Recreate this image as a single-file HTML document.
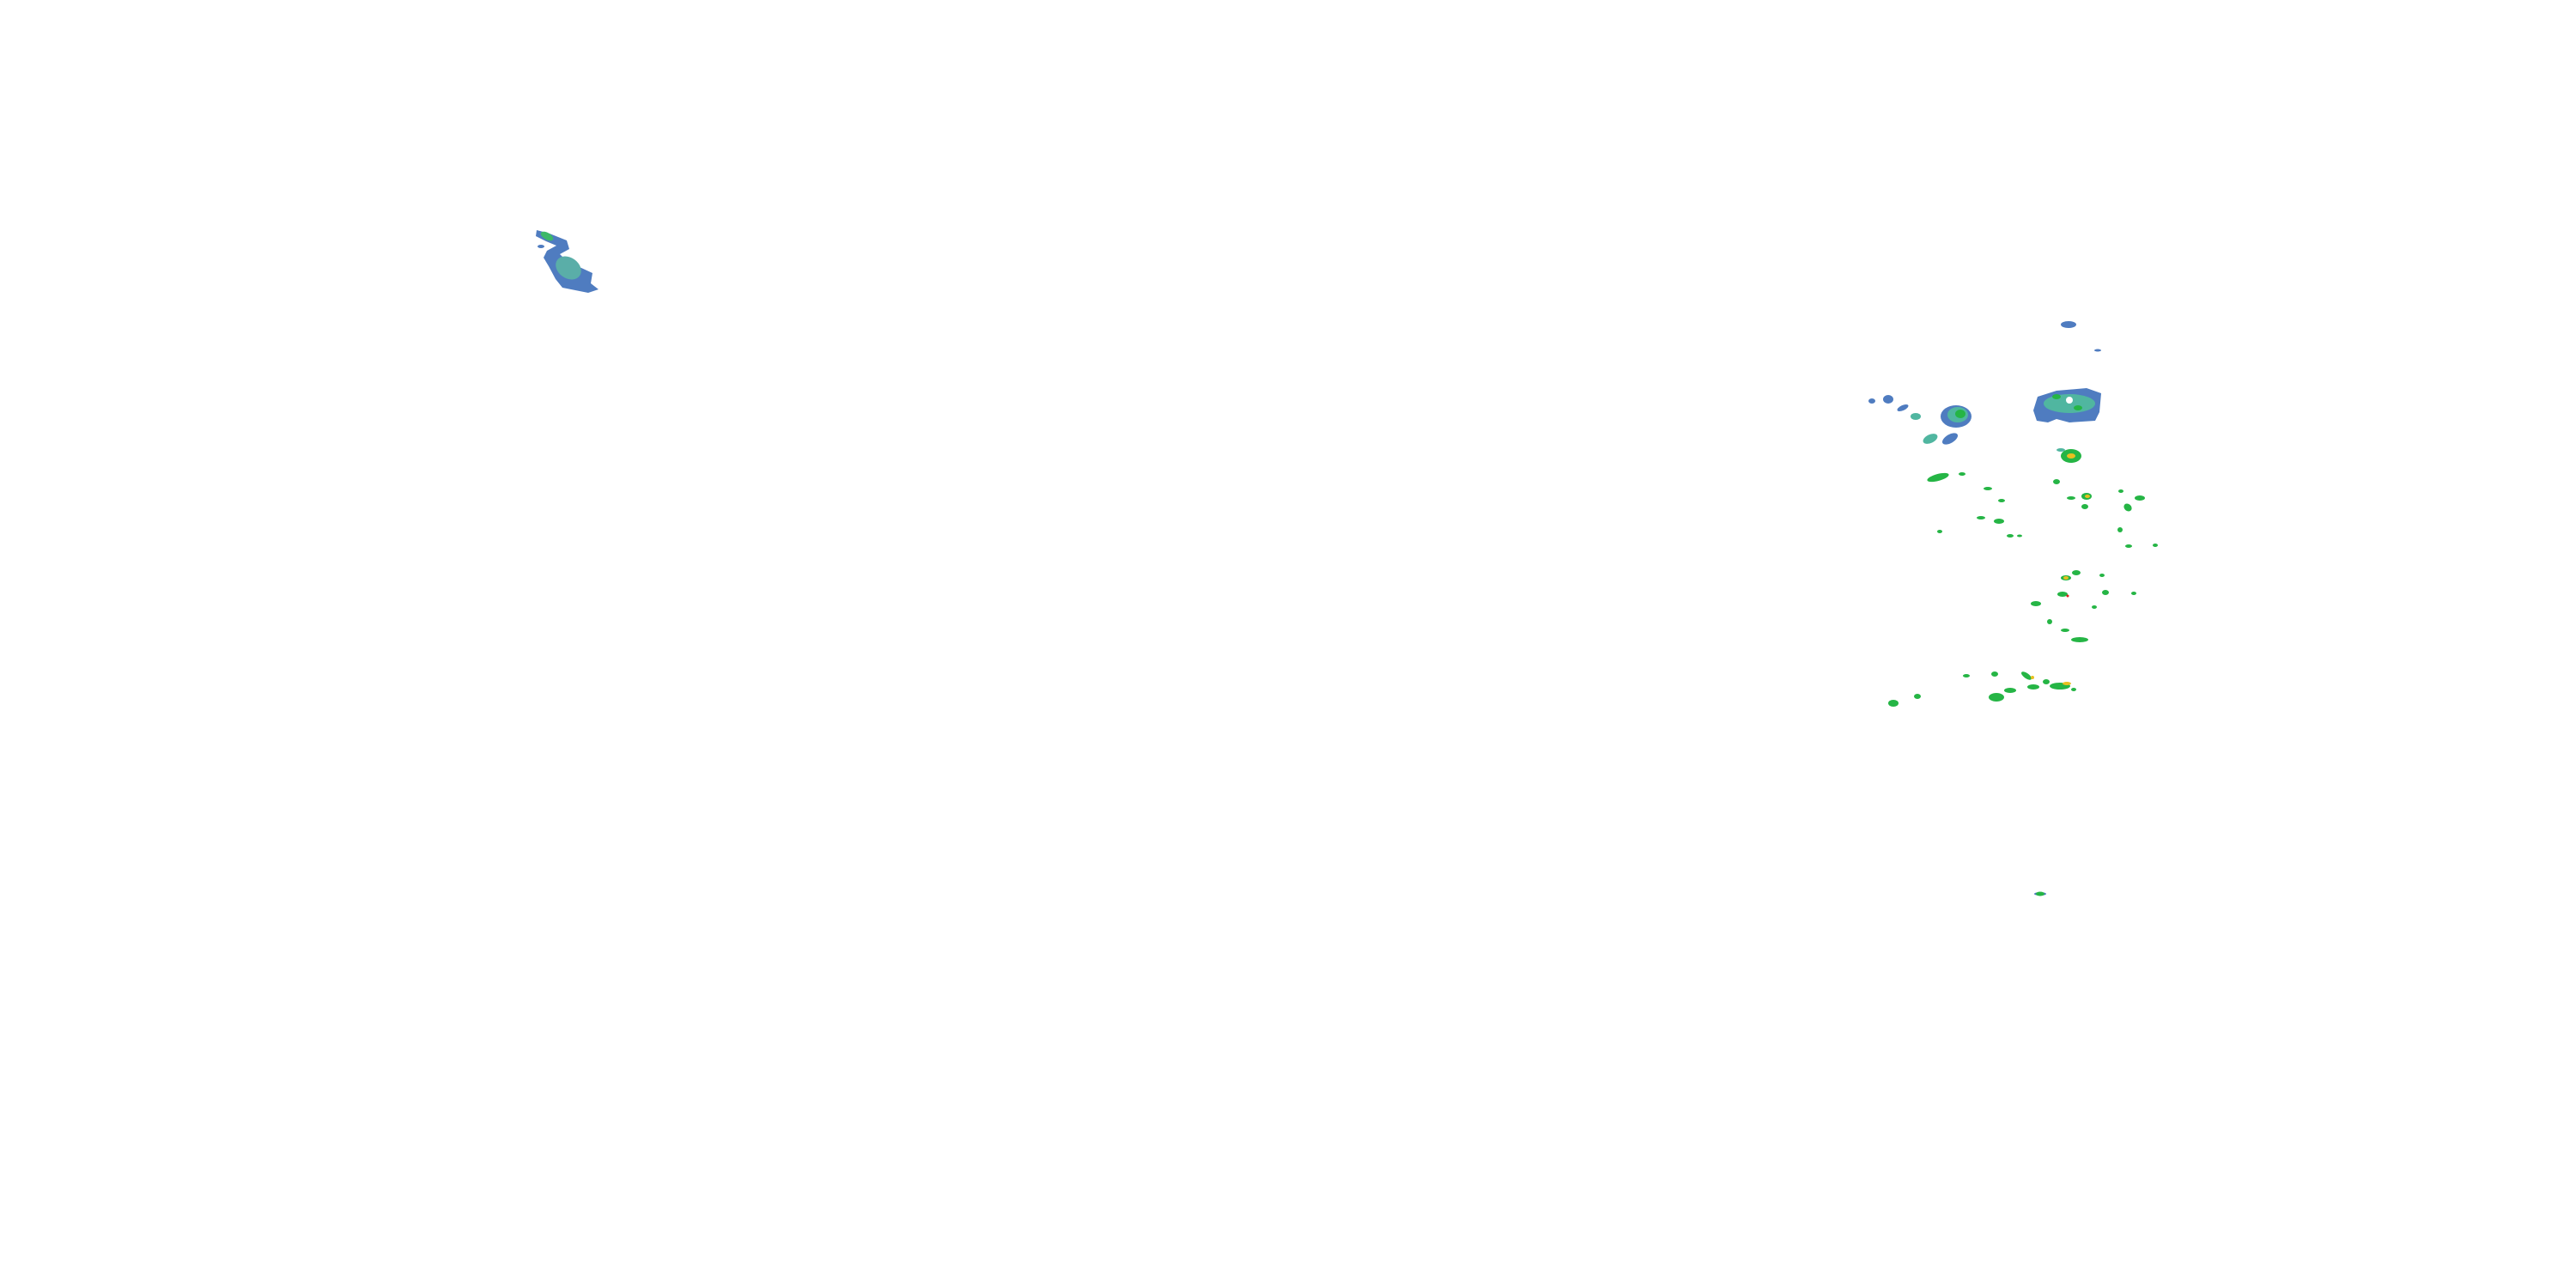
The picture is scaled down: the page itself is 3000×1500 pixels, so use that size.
<!DOCTYPE html>
<html><head><style>html,body{margin:0;padding:0;background:#fff}svg{display:block}</style></head>
<body>
<svg width="3000" height="1500" viewBox="0 0 3000 1500" xmlns="http://www.w3.org/2000/svg">
<rect width="3000" height="1500" fill="#fff"/>
<polygon points="625,268 640,272 660,280 663,290 652,296 662,306 677,312 690,318 688,330 697,337 685,341 670,338 655,335 647,325 639,310 633,300 637,292 648,286 636,281 624,275" fill="#4f7cc0"/>
<ellipse cx="662" cy="312" rx="16" ry="12" fill="#5aaea8" transform="rotate(35 662 312)"/>
<ellipse cx="637" cy="275" rx="8" ry="4" fill="#3cb868" transform="rotate(30 637 275)"/>
<ellipse cx="630" cy="287" rx="4" ry="2" fill="#4f7cc0"/>
<g fill="#4f7cc0">
<ellipse cx="2409" cy="378" rx="9" ry="4"/>
<ellipse cx="2443" cy="408" rx="4" ry="1.5"/>
<ellipse cx="2278" cy="485" rx="18" ry="13"/>
<path d="M2373 462 L2395 455 L2430 452 L2447 458 L2445 480 L2440 490 L2410 492 L2395 488 L2385 492 L2372 490 L2368 478 Z"/>
<ellipse cx="2180" cy="467" rx="4" ry="3"/>
<ellipse cx="2199" cy="465" rx="6" ry="5"/>
<ellipse cx="2216" cy="475" rx="7" ry="3" transform="rotate(-25 2216 475)"/>
<ellipse cx="2271" cy="511" rx="10" ry="5" transform="rotate(-30 2271 511)"/>
<ellipse cx="2376" cy="1041" rx="7" ry="2"/>
</g>
<g fill="#50b6a0">
<ellipse cx="2280" cy="483" rx="12" ry="9"/>
<ellipse cx="2410" cy="470" rx="30" ry="11"/>
<ellipse cx="2231" cy="485" rx="6" ry="4"/>
<ellipse cx="2248" cy="511" rx="9" ry="5" transform="rotate(-25 2248 511)"/>
<ellipse cx="2400" cy="524" rx="5" ry="2"/>
</g>
<circle cx="2410" cy="466" r="4" fill="#fff"/>
<g fill="#25b545">
<ellipse cx="2283" cy="482" rx="6" ry="5"/>
<ellipse cx="2395" cy="462" rx="5" ry="3"/>
<ellipse cx="2420" cy="475" rx="5" ry="3"/>
<ellipse cx="2412" cy="531" rx="12" ry="8"/>
<ellipse cx="2257" cy="556" rx="13" ry="4" transform="rotate(-15 2257 556)"/>
<ellipse cx="2285" cy="552" rx="4" ry="2"/>
<ellipse cx="2315" cy="569" rx="5" ry="2"/>
<ellipse cx="2331" cy="583" rx="4" ry="2"/>
<ellipse cx="2395" cy="561" rx="4" ry="3"/>
<ellipse cx="2430" cy="578" rx="6" ry="4"/>
<ellipse cx="2412" cy="580" rx="5" ry="2"/>
<ellipse cx="2428" cy="590" rx="4" ry="3"/>
<ellipse cx="2478" cy="591" rx="5" ry="4" transform="rotate(40 2478 591)"/>
<ellipse cx="2492" cy="580" rx="6" ry="3"/>
<ellipse cx="2470" cy="572" rx="3" ry="2"/>
<ellipse cx="2307" cy="603" rx="5" ry="2"/>
<ellipse cx="2328" cy="607" rx="6" ry="3"/>
<ellipse cx="2341" cy="624" rx="4" ry="2"/>
<ellipse cx="2352" cy="624" rx="3" ry="1.5"/>
<ellipse cx="2259" cy="619" rx="3" ry="2"/>
<ellipse cx="2469" cy="617" rx="3" ry="3"/>
<ellipse cx="2479" cy="636" rx="4" ry="2"/>
<ellipse cx="2510" cy="635" rx="3" ry="2"/>
<ellipse cx="2406" cy="673" rx="6" ry="3"/>
<ellipse cx="2418" cy="667" rx="5" ry="3"/>
<ellipse cx="2402" cy="692" rx="6" ry="3"/>
<ellipse cx="2371" cy="703" rx="6" ry="3"/>
<ellipse cx="2452" cy="690" rx="4" ry="3"/>
<ellipse cx="2448" cy="670" rx="3" ry="2"/>
<ellipse cx="2485" cy="691" rx="3" ry="2"/>
<ellipse cx="2439" cy="707" rx="3" ry="2"/>
<ellipse cx="2387" cy="724" rx="3" ry="3"/>
<ellipse cx="2405" cy="734" rx="5" ry="2"/>
<ellipse cx="2422" cy="745" rx="10" ry="3"/>
<ellipse cx="2360" cy="787" rx="7" ry="3" transform="rotate(35 2360 787)"/>
<ellipse cx="2368" cy="800" rx="7" ry="3"/>
<ellipse cx="2383" cy="794" rx="4" ry="3"/>
<ellipse cx="2399" cy="799" rx="12" ry="4"/>
<ellipse cx="2325" cy="812" rx="9" ry="5"/>
<ellipse cx="2341" cy="804" rx="7" ry="3"/>
<ellipse cx="2323" cy="785" rx="4" ry="3"/>
<ellipse cx="2205" cy="819" rx="6" ry="4"/>
<ellipse cx="2233" cy="811" rx="4" ry="3"/>
<ellipse cx="2290" cy="787" rx="4" ry="2"/>
<ellipse cx="2415" cy="803" rx="3" ry="2"/>
<ellipse cx="2376" cy="1041" rx="5" ry="2.5"/>
</g>
<g fill="#e8c020">
<ellipse cx="2412" cy="531" rx="5" ry="3"/>
<ellipse cx="2431" cy="578" rx="3" ry="2"/>
<ellipse cx="2406" cy="673" rx="3" ry="2"/>
<ellipse cx="2407" cy="796" rx="5" ry="2"/>
<ellipse cx="2367" cy="789" rx="2" ry="2"/>
</g>
<circle cx="2408" cy="694" r="1.5" fill="#e02020"/>
</svg>
</body></html>
